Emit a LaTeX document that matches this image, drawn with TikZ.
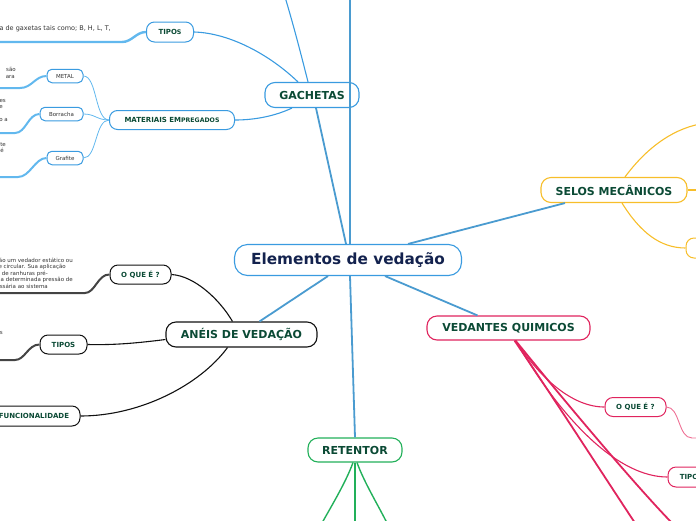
\documentclass[tikz,border=0pt]{standalone}
\usepackage{fontspec}
\setmainfont{DejaVu Sans}
\usetikzlibrary{calc}
\definecolor{mblue}{HTML}{4A9BD0}
\definecolor{nblue}{HTML}{3A9BE0}
\definecolor{lblue}{HTML}{62B8EE}
\definecolor{llblue}{HTML}{8CCBF0}
\definecolor{orng}{HTML}{F7BE2A}
\definecolor{crim}{HTML}{E0245E}
\definecolor{lcrim}{HTML}{EE6F94}
\definecolor{grn}{HTML}{22B05A}
\definecolor{blk}{HTML}{111111}
\definecolor{gry}{HTML}{444444}
\definecolor{tgreen}{HTML}{0B4A35}
\definecolor{navy}{HTML}{13224E}
\definecolor{ttxt}{HTML}{333333}
\begin{document}
\begin{tikzpicture}[x=1pt,y=-1pt,
  box/.style={draw, fill=white, inner sep=0pt, align=center, text=tgreen},
  bigbox/.style={box, line width=1.1pt, rounded corners=10pt, minimum height=25pt, font=\bfseries\fontsize{11}{13}\selectfont},
  midbox/.style={box, line width=1pt, rounded corners=8pt, minimum height=19pt, font=\bfseries\fontsize{7}{8}\selectfont},
  smallbox/.style={box, line width=1pt, rounded corners=5pt, minimum height=13.5pt, text=ttxt, font=\fontsize{5.5}{6}\selectfont},
  leaftext/.style={inner sep=0pt, text=ttxt, font=\fontsize{5.5}{6}\selectfont, anchor=base east},
  mainline/.style={mblue, line width=1.8pt},
]
\useasboundingbox (0,0) rectangle (696,520);
\clip (0,0) rectangle (696,520);

% ---------- nodes ----------
\node[box, draw=nblue, line width=1.1pt, rounded corners=13pt, minimum width=227pt, minimum height=31pt, text=navy, font=\bfseries\fontsize{15.3}{17}\selectfont] (c) at (348,260) {Elementos de vedação};

\node[bigbox, draw=nblue, minimum width=94pt] (gach) at (312,95) {GACHETAS};
\node[midbox, draw=nblue, minimum width=47pt, minimum height=20pt] (tip1) at (170,32) {TIPO{\fontsize{6.3}{7}\selectfont\raisebox{-0.6pt}{S}}};
\node[midbox, draw=nblue, minimum width=125pt] (mat) at (172,120) {MATERIAIS EM{\fontsize{6.2}{7}\selectfont\raisebox{-0.8pt}{PREGADOS}}};
\node[smallbox, draw=nblue, minimum width=36pt] (metal) at (65,76) {METAL};
\node[smallbox, draw=nblue, minimum width=43pt] (borr) at (61.5,114) {Borracha};
\node[smallbox, draw=nblue, minimum width=36pt] (graf) at (65,158) {Grafite};

\node[bigbox, draw=orng, minimum width=146pt] (selos) at (614,190) {SELOS MECÂNICOS};
\node[midbox, draw=orng, minimum width=60pt, minimum height=20pt] (selp) at (716,248) {};

\node[bigbox, draw=crim, minimum width=163pt, minimum height=24pt] (ved) at (508.5,328) {VEDANTES QUIMICOS};
\node[midbox, draw=crim, minimum width=61pt] (oq2) at (635.5,407) {O QUE É ?};
\node[midbox, draw=crim, minimum width=47pt, minimum height=20pt] (tip3) at (691.5,477) {TIPOS};

\node[bigbox, draw=grn, minimum width=94pt, minimum height=24pt] (ret) at (355,450) {RETENTOR};

\node[bigbox, draw=blk, minimum width=151pt] (an) at (241.5,334.5) {ANÉIS DE VEDAÇÃO};
\node[midbox, draw=blk, minimum width=61pt] (oq1) at (140.5,274.5) {O QUE É ?};
\node[midbox, draw=blk, minimum width=47pt] (tip2) at (63.5,344.5) {TIPOS};
\node[midbox, draw=blk, minimum width=92pt, minimum height=20pt] (func) at (34,416) {FUNCIONALIDADE};

% free ends
\coordinate (tA) at (350,-3);
\coordinate (tB) at (285,-3);
\coordinate (l1) at (-3,42);
\coordinate (l2) at (-3,88);
\coordinate (l3) at (-3,133);
\coordinate (l4) at (-3,177);
\coordinate (s1) at (700,124);
\coordinate (s2) at (700,190);
\coordinate (v1) at (700,438);
\coordinate (v2) at (635,523);
\coordinate (v3) at (672,523);
\coordinate (r1) at (322,523);
\coordinate (r2) at (355,523);
\coordinate (r3) at (387,523);
\coordinate (a1) at (-3,293);
\coordinate (a2) at (-3,360);

% ---------- connectors ----------
% central
\draw[mainline] ([xshift=-2pt]c.north) -- ([xshift=4pt]gach.south);
\draw[mainline] ([xshift=2pt]c.north) -- (tA);
\draw[mainline] ([xshift=60pt]c.north) -- ([xshift=-49pt]selos.south);
\draw[mainline] ([xshift=37pt]c.south) -- ([xshift=-31pt]ved.north);
\draw[mainline] ([xshift=2pt]c.south) -- (ret.north);
\draw[mainline] ([xshift=-20pt]c.south) -- ([xshift=18pt]an.north);

% gachetas
\draw[nblue, line width=1.1pt] ([xshift=-4pt]gach.north) .. controls (300,50) and (292,20) .. (tB);
\draw[nblue, line width=1.1pt] ([xshift=-14pt]gach.north) .. controls (270,55) and (230,33) .. (tip1.east);
\draw[nblue, line width=1.1pt] ([xshift=-20pt]gach.south) .. controls (275,116) and (255,120) .. (mat.east);
\draw[lblue, line width=2.4pt] (tip1.west) .. controls (136,32) and (132,42) .. (122,42) -- (l1);
\draw[lblue, line width=0.8pt] (mat.west) .. controls (95,120) and (97,76) .. (metal.east);
\draw[lblue, line width=0.8pt] (mat.west) .. controls (97,120) and (95,114) .. (borr.east);
\draw[lblue, line width=0.8pt] (mat.west) .. controls (95,120) and (97,158) .. (graf.east);
\draw[lblue, line width=2pt] (metal.west) .. controls (35,76) and (32,88) .. (20,88) -- (l2);
\draw[lblue, line width=2pt] (borr.west) .. controls (28,114) and (26,133) .. (15,133) -- (l3);
\draw[lblue, line width=2pt] (graf.west) .. controls (35,158) and (30,177) .. (18,177) -- (l4);

% selos
\draw[orng, line width=1.1pt] ([xshift=11pt]selos.north) .. controls (645,150) and (670,130) .. (s1);
\draw[orng, line width=1.1pt] (selos.east) -- (s2);
\draw[orng, line width=1.1pt] ([xshift=8pt]selos.south) .. controls (640,232) and (660,248) .. (selp.west);

% vedantes
\draw[crim, line width=1.1pt] ([xshift=7pt]ved.south) .. controls (540,378) and (572,407) .. (oq2.west);
\draw[lcrim, line width=0.9pt] (oq2.east) .. controls (680,407) and (678,438) .. (692,438) -- (v1);
\draw[crim, line width=1.1pt] ([xshift=7pt]ved.south) .. controls (565,425) and (620,477) .. (tip3.west);
\draw[crim, line width=1.8pt] ([xshift=6pt]ved.south) .. controls (555,400) and (600,470) .. (v2);
\draw[crim, line width=1.8pt] ([xshift=7pt]ved.south) .. controls (580,420) and (640,490) .. (v3);

% retentor
\draw[grn, line width=1.4pt] ([xshift=-2pt]ret.south) .. controls (346,482) and (332,505) .. (r1);
\draw[grn, line width=1.4pt] (ret.south) -- (r2);
\draw[grn, line width=1.4pt] ([xshift=2pt]ret.south) .. controls (364,482) and (378,505) .. (r3);

% aneis
\draw[blk, line width=1.1pt] ([xshift=-9pt]an.north) .. controls (220,300) and (195,276) .. (oq1.east);
\draw[blk, line width=1.1pt] ([yshift=-5pt]an.west) .. controls (130,344) and (110,345) .. (tip2.east);
\draw[blk, line width=1.1pt] ([xshift=-14pt]an.south) .. controls (200,385) and (140,416) .. (func.east);
\draw[gry, line width=2pt] (oq1.west) .. controls (98,274) and (95,293) .. (85,293) -- (a1);
\draw[gry, line width=2pt] (tip2.west) .. controls (28,344.5) and (25,360) .. (15,360) -- (a2);

% ---------- leaf texts ----------
\node[leaftext, font=\fontsize{6.5}{7}\selectfont] (t1) at (111,30) {a de gaxetas tais como;\ B, H, L, T,};
\node[leaftext] (t2) at (16,71) {são};
\node[leaftext] (t3) at (15,78) {ara};
\node[leaftext] (t4) at (6,102) {es};
\node[leaftext] (t5) at (3,108) {e};
\node[leaftext] (t6) at (8,121) {o a};
\node[leaftext] (t7) at (6,146) {te};
\node[leaftext] (t8) at (4,152) {é};
\node[leaftext] (t9) at (73,262) {ão um vedador estático ou};
\node[leaftext] (t10) at (66,268.5) {e circular. Sua aplicação};
\node[leaftext] (t11) at (48,275) {de ranhuras pré-};
\node[leaftext] (t12) at (73,281.5) {a determinada pressão de};
\node[leaftext] (t13) at (48,288) {ssária ao sistema};
\node[leaftext] (t14) at (3,334) {s};
\end{tikzpicture}
\end{document}
